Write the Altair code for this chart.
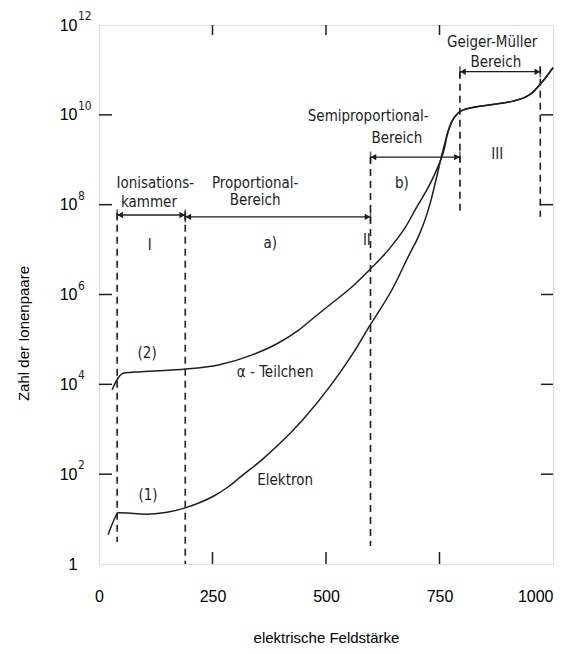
import altair as alt
import pandas as pd

# ---- curve data (x = field strength, e = log10 of number of ion pairs) ----
tail_x = [768, 777, 790, 800, 859, 909, 940, 954, 976, 1000]
tail_e = [9.6, 9.85, 10.03, 10.1, 10.22, 10.3, 10.4, 10.49, 10.73, 11.05]

alpha_x = [29, 42, 55, 93, 192, 263, 336, 395, 439, 475, 512, 555, 596, 625, 650, 675, 700, 726, 748, 760] + tail_x
alpha_e = [3.88, 4.14, 4.25, 4.28, 4.34, 4.43, 4.65, 4.92, 5.2, 5.5, 5.8, 6.15, 6.55, 6.85, 7.15, 7.5, 7.95, 8.4, 8.88, 9.22] + tail_e

elec_x = [20, 33, 42, 70, 108, 150, 190, 225, 254, 285, 313, 360, 402, 446, 512, 560, 596, 645, 689, 700, 730, 748, 755, 760] + tail_x
elec_e = [0.65, 0.98, 1.14, 1.13, 1.11, 1.15, 1.25, 1.38, 1.52, 1.72, 1.95, 2.33, 2.72, 3.18, 4.0, 4.7, 5.3, 6.1, 7.0, 7.21, 8.05, 8.8, 9.1, 9.3] + tail_e

# ---- region boundaries (dashed lines) ----
dash_x = [40, 190, 598, 795, 972]
dash_top = [7.82, 7.82, 9.06, 10.96, 11.07]
dash_bot = [0.49, 0.0, 0.4, 7.77, 7.73]

# ---- range arrows ----
arr_x1 = [40, 190, 598, 795]
arr_x2 = [190, 598, 795, 972]
arr_e = [7.77, 7.73, 9.06, 10.96]

# ---- annotation texts ----
txt = ["Ionisations-", "kammer", "Proportional-", "Bereich", "I", "a)", "II",
       "Semiproportional-", "Bereich", "b)", "III", "Geiger-Müller", "Bereich",
       "(2)", "α - Teilchen", "(1)", "Elektron"]
txt_x = [124, 110, 344, 344, 112, 377, 590, 593, 656, 667, 877, 866, 874, 106, 388, 108, 410]
txt_e = [8.49, 8.06, 8.49, 8.11, 7.1, 7.15, 7.22, 9.98, 9.49, 8.49, 9.13, 11.63, 11.18, 4.7, 4.28, 1.54, 1.87]

x_ticks = [0, 250, 500, 750, 1000]
y_ticks = [1, 1e2, 1e4, 1e6, 1e8, 1e10, 1e12]
exp_vals = [1e2, 1e4, 1e6, 1e8, 1e10, 1e12]
exp_txt = ["2", "4", "6", "8", "10", "12"]
inner_y = [1e2, 1e4, 1e6, 1e8, 1e10]
inner_x = [250, 500, 750]

W, H = 454, 539
INK = "#1e1e1e"
FONT = "DejaVu Sans Condensed"

curves = pd.DataFrame(
    [{"x": a, "y": 10 ** b, "s": "alpha"} for a, b in zip(alpha_x, alpha_e)]
    + [{"x": a, "y": 10 ** b, "s": "elektron"} for a, b in zip(elec_x, elec_e)]
)
dashes = pd.DataFrame({"x": dash_x, "y": [10 ** v for v in dash_top], "y2": [10 ** v for v in dash_bot]})
arrows = pd.DataFrame({"x": arr_x1, "x2": arr_x2, "y": [10 ** v for v in arr_e]})
heads_l = pd.DataFrame({"x": arr_x1, "y": [10 ** v for v in arr_e]})
heads_r = pd.DataFrame({"x": arr_x2, "y": [10 ** v for v in arr_e]})
bars = pd.DataFrame({"x": arr_x1 + arr_x2, "y": [10 ** v for v in arr_e] * 2})
texts = pd.DataFrame({"x": txt_x, "y": [10 ** v for v in txt_e], "t": txt})
exps = pd.DataFrame({"y": exp_vals, "t": exp_txt})
ity = pd.DataFrame({"y": inner_y})
itx = pd.DataFrame({"x": inner_x})

xs = alt.Scale(domain=[0, 1000], nice=False, zero=False)
ys = alt.Scale(type="log", domain=[1, 1e12], nice=False)

X = alt.X("x:Q", scale=xs, axis=alt.Axis(values=x_ticks, title="elektrische Feldstärke",
          ticks=False, tickSize=0, domain=False, grid=False, labelPadding=24,
          labelFontSize=16, titleFontSize=15, titleFontWeight="normal",
          format="d",
          labelAlign={"expr": "datum.value >= 1000 ? 'right' : 'center'"},
          titleBaseline="middle", titleY=73, labelFlush=False))
Y = alt.Y("y:Q", scale=ys, axis=alt.Axis(values=y_ticks, title="Zahl der Ionenpaare",
          ticks=False, tickSize=0, domain=False, grid=False, labelPadding=22,
          labelFontSize=16, titleFontSize=15, titleFontWeight="normal",
          labelExpr="datum.value < 5 ? '1' : '10'",
          titleAngle=270, titleBaseline="middle", titleX=-76, titleY=308, labelFlush=False))

line_layer = alt.Chart(curves).mark_line(color=INK, strokeWidth=1.5, interpolate="monotone").encode(
    x=X, y=Y, detail="s:N", order="x:Q")

dash_layer = alt.Chart(dashes).mark_rule(color=INK, strokeWidth=1.6, strokeDash=[7, 5]).encode(
    x=X, y=Y, y2="y2:Q")

arrow_layer = alt.Chart(arrows).mark_rule(color=INK, strokeWidth=1.3).encode(x=X, x2="x2:Q", y=Y)
hl = alt.Chart(heads_l).mark_point(shape="triangle-left", filled=True, size=40, color=INK,
                                   opacity=1, xOffset=3).encode(x=X, y=Y)
hr = alt.Chart(heads_r).mark_point(shape="triangle-right", filled=True, size=40, color=INK,
                                   opacity=1, xOffset=-3).encode(x=X, y=Y)
bar_layer = alt.Chart(bars).mark_tick(orient="vertical", size=11, thickness=1.6, color=INK).encode(x=X, y=Y)

text_layer = alt.Chart(texts).mark_text(font=FONT, fontSize=15, color=INK, align="center",
                                        baseline="middle").encode(x=X, y=Y, text="t:N")

exp_layer = alt.Chart(exps).mark_text(font=FONT, fontSize=12, color=INK, align="left",
                                      baseline="middle", dx=1, dy=-9).encode(
    x=alt.value(-22), y=Y, text="t:N")

lt = alt.Chart(ity).mark_rule(color=INK, strokeWidth=1.5).encode(y=Y, x=alt.value(0), x2=alt.value(13))
rt = alt.Chart(ity).mark_rule(color=INK, strokeWidth=1.5).encode(y=Y, x=alt.value(W - 12), x2=alt.value(W))
bt = alt.Chart(itx).mark_rule(color=INK, strokeWidth=1.5).encode(x=X, y=alt.value(H - 12), y2=alt.value(H))
tt = alt.Chart(itx).mark_rule(color=INK, strokeWidth=1.5).encode(x=X, y=alt.value(0), y2=alt.value(10))

chart = alt.layer(
    lt, rt, bt, tt, dash_layer, arrow_layer, bar_layer, hl, hr, line_layer, text_layer, exp_layer
).properties(
    width=W, height=H,
    autosize=alt.AutoSizeParams(type="none"),
    padding={"left": 91, "top": 17, "right": 8, "bottom": 82},
).configure_view(
    stroke=INK, strokeWidth=1.8
).configure_axis(
    labelFont=FONT, titleFont=FONT, labelColor=INK, titleColor=INK
).configure(background="white")

chart.save("out.html", embed_options={"renderer": "svg", "actions": False})
